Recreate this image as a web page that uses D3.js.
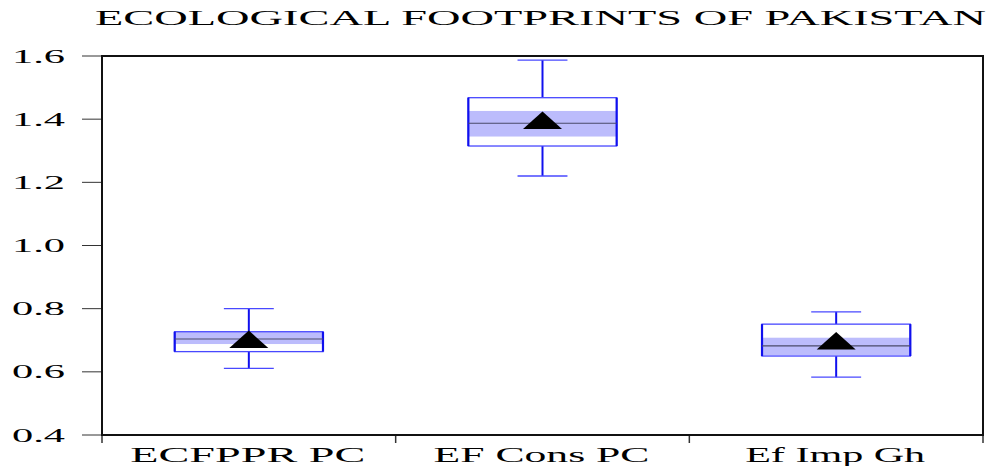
<!DOCTYPE html>
<html><head><meta charset="utf-8">
<script src="https://cdn.jsdelivr.net/npm/d3@7"></script>
<style>body{margin:0;background:#fff}svg{display:block}</style>
</head><body>
<script>
const categories = ["ECFPPR PC", "EF Cons PC", "Ef Imp Gh"];
const whiskerLow = [0.611, 1.220, 0.583];
const q1 = [0.664, 1.315, 0.650];
const median = [0.704, 1.387, 0.682];
const q3 = [0.727, 1.468, 0.751];
const whiskerHigh = [0.800, 1.587, 0.790];
const mean = [0.702, 1.396, 0.698];
const ciLow = [0.688, 1.345, 0.652];
const ciHigh = [0.727, 1.426, 0.708];
const yTicks = [0.4, 0.6, 0.8, 1.0, 1.2, 1.4, 1.6];
const title = "ECOLOGICAL FOOTPRINTS OF PAKISTAN";

const W = 989, H = 466;
const m = {left: 102, right: 6, top: 56, bottom: 31};
const svg = d3.select("body").append("svg").attr("width", W).attr("height", H);

const x = d3.scaleBand().domain(categories).range([m.left, W - m.right]).padding(0);
const y = d3.scaleLinear().domain([0.4, 1.6]).range([H - m.bottom, m.top]);

const serif = "'Liberation Serif','Times New Roman',serif";

// title
svg.append("text").attr("x", 95).attr("y", 25)
  .attr("textLength", 891).attr("lengthAdjust", "spacingAndGlyphs")
  .style("font-family", serif).style("font-size", "20px").attr("fill", "#000")
  .text(title);

// y axis ticks and labels
const yAxis = svg.append("g");
yAxis.selectAll("line").data(yTicks).join("line")
  .attr("x1", 82).attr("x2", m.left).attr("y1", d => y(d)).attr("y2", d => y(d))
  .attr("stroke", "#333").attr("stroke-width", 1);
yAxis.selectAll("text").data(yTicks).join("text")
  .attr("x", 12).attr("y", d => y(d) + 6.5)
  .attr("textLength", 53).attr("lengthAdjust", "spacingAndGlyphs")
  .style("font-family", serif).style("font-size", "19px").attr("fill", "#000")
  .text(d => d.toFixed(1));

// x axis ticks (band boundaries) and labels
const bounds = categories.map(c => x(c)).concat([x(categories[2]) + x.bandwidth()]);
svg.append("g").selectAll("line").data(bounds).join("line")
  .attr("x1", d => d).attr("x2", d => d).attr("y1", y(0.4)).attr("y2", y(0.4) + 8)
  .attr("stroke", "#333").attr("stroke-width", 1.5);
const labelW = [235, 216, 180];
svg.append("g").selectAll("text").data(categories).join("text")
  .attr("x", (d, i) => x(d) + x.bandwidth() / 2 - labelW[i] / 2 - 1)
  .attr("y", 462)
  .attr("textLength", (d, i) => labelW[i]).attr("lengthAdjust", "spacingAndGlyphs")
  .style("font-family", serif).style("font-size", "21px").attr("fill", "#000")
  .text(d => d);

// boxes
const boxW = x.bandwidth() * 0.505;
const capW = x.bandwidth() * 0.17;
const g = svg.append("g");
categories.forEach((c, i) => {
  const cx = x(c) + x.bandwidth() / 2;
  const bx = cx - boxW / 2;
  // whiskers
  g.append("line").attr("x1", cx).attr("x2", cx).attr("y1", y(q3[i])).attr("y2", y(whiskerHigh[i]))
    .attr("stroke", "#1010ee").attr("stroke-width", 2);
  g.append("line").attr("x1", cx).attr("x2", cx).attr("y1", y(q1[i])).attr("y2", y(whiskerLow[i]))
    .attr("stroke", "#1010ee").attr("stroke-width", 2);
  [whiskerHigh[i], whiskerLow[i]].forEach(v => {
    g.append("line").attr("x1", cx - capW / 2).attr("x2", cx + capW / 2).attr("y1", y(v)).attr("y2", y(v))
      .attr("stroke", "#4848ff").attr("stroke-width", 1.3);
  });
  // box white fill
  g.append("rect").attr("x", bx).attr("y", y(q3[i])).attr("width", boxW).attr("height", y(q1[i]) - y(q3[i]))
    .attr("fill", "#fff");
  // CI shading
  g.append("rect").attr("x", bx).attr("y", y(ciHigh[i])).attr("width", boxW).attr("height", y(ciLow[i]) - y(ciHigh[i]))
    .attr("fill", "#bcbcfc");
  // box outline horizontals
  g.append("rect").attr("x", bx).attr("y", y(q3[i])).attr("width", boxW).attr("height", y(q1[i]) - y(q3[i]))
    .attr("fill", "none").attr("stroke", "#4848ff").attr("stroke-width", 1.3);
  // box sides thicker
  [bx, bx + boxW].forEach(sx => {
    g.append("line").attr("x1", sx).attr("x2", sx).attr("y1", y(q3[i])).attr("y2", y(q1[i]))
      .attr("stroke", "#1010ee").attr("stroke-width", 2.2);
  });
  // median
  g.append("line").attr("x1", bx).attr("x2", bx + boxW).attr("y1", y(median[i])).attr("y2", y(median[i]))
    .attr("stroke", "#4a4a6a").attr("stroke-width", 1.2);
  // mean triangle
  const my = y(mean[i]);
  g.append("path")
    .attr("d", `M${cx},${my - 9} L${cx + 19.5},${my + 8.5} L${cx - 19.5},${my + 8.5} Z`)
    .attr("fill", "#000");
});

// frame
svg.append("rect").attr("x", m.left).attr("y", m.top)
  .attr("width", W - m.right - m.left).attr("height", H - m.bottom - m.top)
  .attr("fill", "none").attr("stroke", "#111").attr("stroke-width", 2);
</script>
</body></html>
